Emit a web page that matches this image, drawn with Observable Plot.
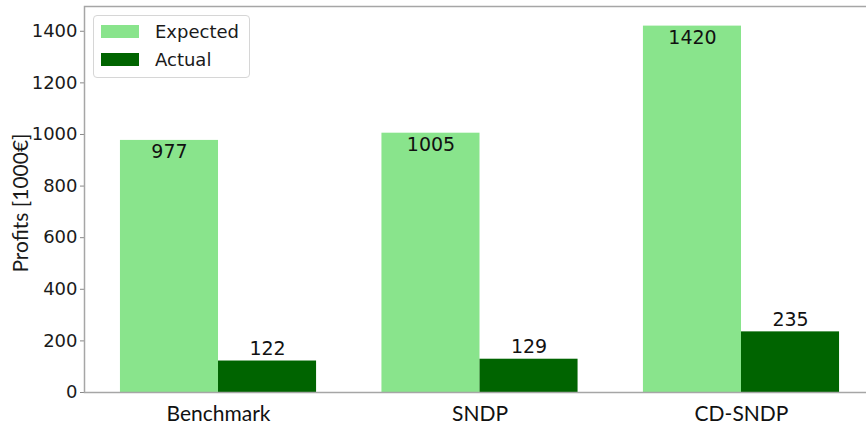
<!DOCTYPE html>
<html>
<head>
<meta charset="utf-8">
<script src="https://cdn.jsdelivr.net/npm/d3@7"></script>
<script src="https://cdn.jsdelivr.net/npm/@observablehq/plot@0.6"></script>
<style>
  html, body { margin: 0; padding: 0; background: #fff; }
  #wrap { position: relative; width: 866px; height: 432px; overflow: hidden; }
  #legend {
    position: absolute; left: 93px; top: 15px; width: 157px; height: 63px;
    box-sizing: border-box; border: 1px solid #d6d6d6; border-radius: 4px;
    background: rgba(255,255,255,0.8);
    font-family: "DejaVu Sans", sans-serif; font-size: 18px; color: #1a1a1a;
  }
  #legend .item { position: absolute; left: 7px; height: 14px; display: flex; align-items: center; white-space: nowrap; }
  #legend .sw { width: 38px; height: 13px; margin-right: 16px; }
  #ylabel {
    position: absolute; left: 19px; top: 203px; transform: translate(-50%, -50%) rotate(-90deg);
    font-family: "Lato", sans-serif; font-size: 21px; color: #1a1a1a; white-space: nowrap;
  }
</style>
</head>
<body>
<div id="wrap"></div>
<script>
const categories = ["Benchmark", "SNDP", "CD-SNDP"];
const series = ["Expected", "Actual"];
const expected = [977, 1005, 1420];
const actual = [122, 129, 235];
const yTicks = [0, 200, 400, 600, 800, 1000, 1200, 1400];
const colors = ["#89e48c", "#006400"];
const yLabel = "Profits [1000€]";

const barW = 0.375;
const rows = [];
categories.forEach((c, i) => {
  rows.push({cat: c, i, series: "Expected", value: expected[i], x1: i - barW, x2: i});
  rows.push({cat: c, i, series: "Actual", value: actual[i], x1: i, x2: i + barW});
});
const expRows = rows.filter(d => d.series === "Expected");
const actRows = rows.filter(d => d.series === "Actual");

const chart = Plot.plot({
  width: 866,
  height: 432,
  marginLeft: 84,
  marginRight: -9,
  marginTop: 6,
  marginBottom: 40,
  style: {background: "white", overflow: "hidden"},
  x: {domain: [-0.5125, 2.5125]},
  y: {domain: [0, 1496]},
  color: {domain: series, range: colors},
  marks: [
    Plot.rect(rows, {x1: "x1", x2: "x2", y1: 0, y2: "value", fill: "series"}),
    Plot.text(expRows, {x: d => (d.x1 + d.x2) / 2, y: "value", text: d => String(d.value),
      lineAnchor: "top", dy: 4, fontSize: 19, fontFamily: "DejaVu Sans", fill: "#111"}),
    Plot.text(actRows, {x: d => (d.x1 + d.x2) / 2, y: "value", text: d => String(d.value),
      lineAnchor: "bottom", dy: -6, fontSize: 19, fontFamily: "DejaVu Sans", fill: "#111"}),
    Plot.axisY({ticks: yTicks, tickFormat: d => String(d), tickSize: 4, tickPadding: 3, label: null, stroke: "#888",
      fontSize: 18, fontFamily: "DejaVu Sans", fill: "#1a1a1a"}),
    Plot.axisX({ticks: [0, 1, 2], tickFormat: i => categories[i], tickSize: 0, tickPadding: 14,
      label: null, fontSize: 21, fontFamily: "Lato", fill: "#111"}),
    Plot.frame({stroke: "#a6a6a6", strokeWidth: 1.5})
  ]
});
const wrap = document.getElementById("wrap");
wrap.appendChild(chart);

const yl = document.createElement("div");
yl.id = "ylabel";
yl.textContent = yLabel;
wrap.appendChild(yl);

const legend = document.createElement("div");
legend.id = "legend";
series.forEach((s, k) => {
  const item = document.createElement("div");
  item.className = "item";
  item.style.top = (8 + k * 28.5) + "px";
  const sw = document.createElement("span");
  sw.className = "sw";
  sw.style.background = colors[k];
  const t = document.createElement("span");
  t.textContent = s;
  item.appendChild(sw);
  item.appendChild(t);
  legend.appendChild(item);
});
wrap.appendChild(legend);
</script>
</body>
</html>
